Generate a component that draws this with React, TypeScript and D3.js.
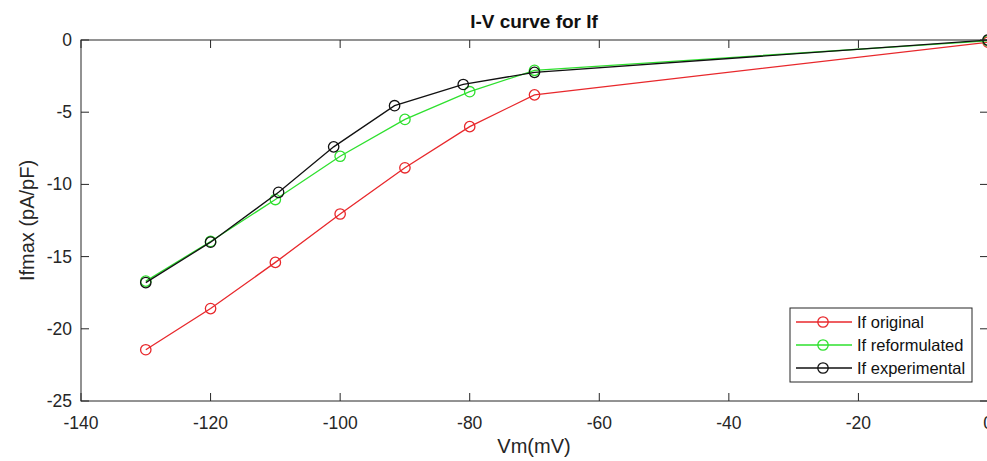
import React from "react";
import * as d3 from "d3";

const voltages = [-130, -120, -110, -100, -90, -80, -70, 0];
const ifOriginal = [-21.45, -18.6, -15.4, -12.05, -8.85, -6.0, -3.8, -0.15];
const ifReformulated = [-16.7, -13.95, -11.05, -8.05, -5.5, -3.58, -2.1, -0.05];
const expVoltages = [-130, -120, -109.5, -101, -91.6, -81, -70, 0];
const ifExperimental = [-16.8, -14.0, -10.55, -7.4, -4.55, -3.08, -2.24, 0];

const xTicks = [-140, -120, -100, -80, -60, -40, -20, 0];
const yTicks = [0, -5, -10, -15, -20, -25];

const seriesNames = ["If original", "If reformulated", "If experimental"];
const seriesColors = ["#e8282c", "#2ee02e", "#111111"];

const W = 987;
const H = 461;
const M = { left: 81, right: 988, top: 40, bottom: 401 };
const AX = "#262626";
const FONT = "'Liberation Sans', Arial, Helvetica, sans-serif";

export default function App() {
  const x = d3.scaleLinear().domain([-140, 0]).range([M.left, M.right]);
  const y = d3.scaleLinear().domain([-25, 0]).range([M.bottom, M.top]);

  const series = [
    { name: seriesNames[0], color: seriesColors[0], xs: voltages, ys: ifOriginal },
    { name: seriesNames[1], color: seriesColors[1], xs: voltages, ys: ifReformulated },
    { name: seriesNames[2], color: seriesColors[2], xs: expVoltages, ys: ifExperimental },
  ];

  const line = d3
    .line<[number, number]>()
    .x((d) => x(d[0]))
    .y((d) => y(d[1]));

  const tickLen = 8;
  const legend = { x: 790, y: 308, w: 182, h: 74 };
  const rowYs = [322, 345, 368];

  return (
    <svg
      width={W}
      height={H}
      style={{ position: "absolute", left: 0, top: 0, background: "#fff" }}
      fontFamily={FONT}
    >
      <rect x={0} y={0} width={W} height={H} fill="#fff" />
      {/* title */}
      <text x={534} y={28} textAnchor="middle" fontSize={19} fontWeight="bold" fill="#111">
        I-V curve for If
      </text>

      {/* series */}
      <g>
        {series.map((s) => {
          const pts = s.xs.map((v, i) => [v, s.ys[i]] as [number, number]);
          return (
            <g key={s.name}>
              <path d={line(pts) || ""} fill="none" stroke={s.color} strokeWidth={1.3} />
              {pts.map((p, i) => (
                <circle
                  key={i}
                  cx={x(p[0])}
                  cy={y(p[1])}
                  r={5.2}
                  fill="none"
                  stroke={s.color}
                  strokeWidth={1.3}
                />
              ))}
            </g>
          );
        })}
      </g>

      {/* axes box */}
      <rect
        x={M.left}
        y={M.top}
        width={M.right - M.left}
        height={M.bottom - M.top}
        fill="none"
        stroke={AX}
        strokeWidth={1}
      />
      {xTicks.map((t) => (
        <g key={"x" + t}>
          <line x1={x(t)} x2={x(t)} y1={M.bottom} y2={M.bottom - tickLen} stroke={AX} />
          <line x1={x(t)} x2={x(t)} y1={M.top} y2={M.top + tickLen} stroke={AX} />
          <text x={x(t)} y={429} textAnchor="middle" fontSize={17.5} fill={AX}>
            {t}
          </text>
        </g>
      ))}
      {yTicks.map((t) => (
        <g key={"y" + t}>
          <line x1={M.left} x2={M.left + tickLen} y1={y(t)} y2={y(t)} stroke={AX} />
          <line x1={M.right} x2={M.right - tickLen} y1={y(t)} y2={y(t)} stroke={AX} />
          <text x={72} y={y(t) + 6} textAnchor="end" fontSize={17.5} fill={AX}>
            {t}
          </text>
        </g>
      ))}

      {/* axis labels */}
      <text x={534} y={453} textAnchor="middle" fontSize={20} fill={AX}>
        Vm(mV)
      </text>
      <text
        transform={`translate(34, ${(M.top + M.bottom) / 2}) rotate(-90)`}
        textAnchor="middle"
        fontSize={20}
        fill={AX}
      >
        Ifmax (pA/pF)
      </text>

      {/* legend */}
      <rect
        x={legend.x}
        y={legend.y}
        width={legend.w}
        height={legend.h}
        fill="#fff"
        stroke={AX}
        strokeWidth={1}
      />
      {series.map((s, i) => (
        <g key={"lg" + i}>
          <line x1={796} x2={852} y1={rowYs[i]} y2={rowYs[i]} stroke={s.color} strokeWidth={1.3} />
          <circle cx={823} cy={rowYs[i]} r={5.2} fill="none" stroke={s.color} strokeWidth={1.3} />
          <text x={857} y={rowYs[i] + 6} fontSize={16.5} fill="#111">
            {s.name}
          </text>
        </g>
      ))}
    </svg>
  );
}
